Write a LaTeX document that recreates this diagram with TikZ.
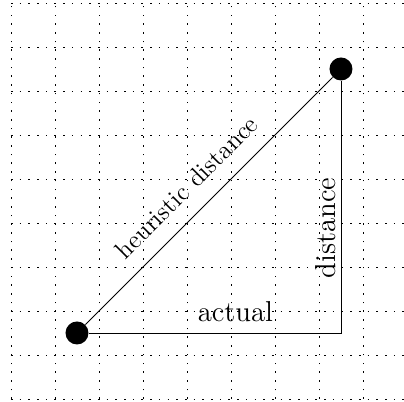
\documentclass[tikz,border=0pt]{standalone}
\usepackage{fontspec}
\begin{document}
\begin{tikzpicture}[x=22pt,y=22pt,
  gridline/.style={line width=0.45pt, dash pattern=on 0.8pt off 3.55pt},
  dot/.style={circle, fill=black, draw=none, minimum size=11.5pt, inner sep=0pt},
  lbl/.style={inner sep=0pt, font=\fontsize{14.4}{17}\selectfont},
  hlbl/.style={inner sep=0pt, font=\fontsize{12.7}{15}\selectfont}]
\useasboundingbox (-1.75,-1.568) rectangle (7.432,7.568);
\foreach \x in {-1.5,-0.5,...,6.5} \draw[gridline] (\x,-1.5) -- (\x,7.5);
\foreach \y in {-1.5,-0.5,...,7.5} \draw[gridline] (-1.5,\y) -- (7.432,\y);
\node[dot] (a) at (0,0) {};
\node[dot] (b) at (6,6) {};
\coordinate (c) at (6,0);
\draw (a) -- (b);
\draw (a) -- (c) -- (b);
\node[lbl, anchor=base] (actual) at (3.6,0.257) {actual};
\node[lbl, anchor=base, rotate=90] (dist) at (5.88,2.386) {distance};
\node[hlbl, anchor=base, rotate=45] (heur) at (2.63,3.175) {heuristic distance};
\end{tikzpicture}
\end{document}
